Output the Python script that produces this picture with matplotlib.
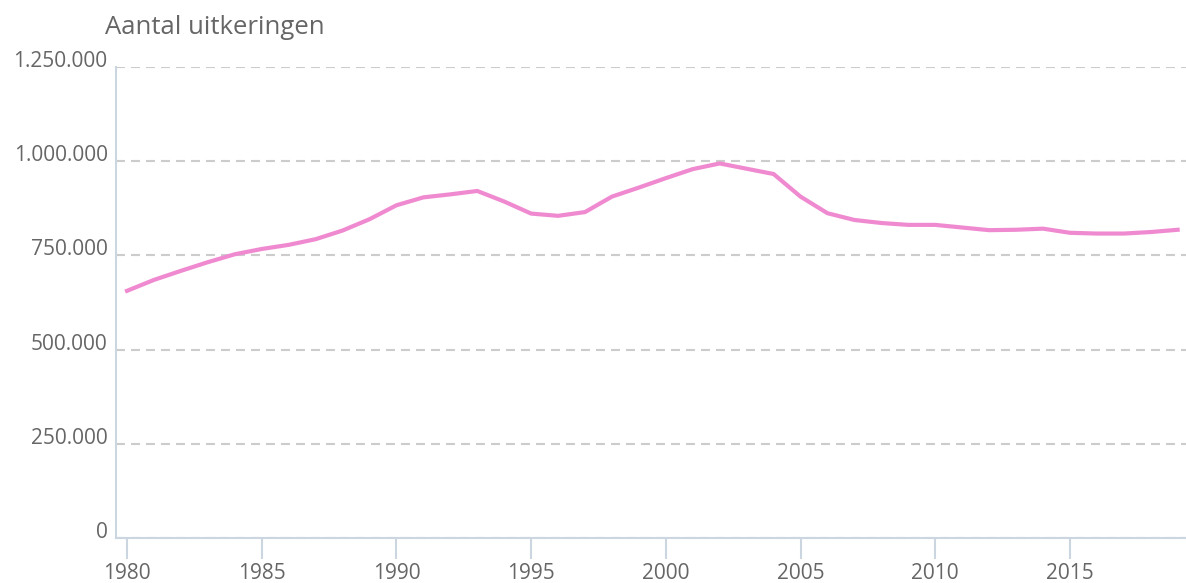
import matplotlib.pyplot as plt
from matplotlib.ticker import FuncFormatter

# aantal uitkeringen per jaar
years = list(range(1980, 2020))
uitkeringen = [
    656000, 685000, 709000, 732000, 753000, 767000, 778000, 793000, 816000, 846000,
    883000, 904000, 912000, 921000, 893000, 861000, 855000, 865000, 906000, 930000,
    955000, 979000, 994000, 980000, 966000, 906000, 862000, 844000, 836000, 831000,
    831000, 824000, 817000, 818000, 821000, 810000, 808000, 808000, 812000, 818000,
]
y_ticks = [0, 250000, 500000, 750000, 1000000, 1250000]
x_ticks = [1980, 1985, 1990, 1995, 2000, 2005, 2010, 2015]

text_grey = "#666666"
axis_blue = "#ccd6e0"

plt.rcParams['font.family'] = ['Open Sans', 'DejaVu Sans']

fig = plt.figure(figsize=(11.86, 5.83), dpi=100)
ax = fig.add_axes([116 / 1186, 45 / 583, 1 - 116 / 1186, 471 / 583])

ax.plot(years, uitkeringen, color="#f08ad0", linewidth=3, solid_joinstyle="round", zorder=3)

ax.set_xlim(1979.59, 2019.31)
ax.set_ylim(0, 1250000)
ax.set_yticks(y_ticks)
ax.set_xticks(x_ticks)

def dutch_thousands(v, pos):
    return f"{int(v):,}".replace(",", ".")

ax.yaxis.set_major_formatter(FuncFormatter(dutch_thousands))

ax.grid(axis="y", color="#cccccc", linestyle=(0, (4.3, 2.9)), linewidth=1.5, zorder=1)
for side in ["top", "right"]:
    ax.spines[side].set_visible(False)
for side in ["left", "bottom"]:
    ax.spines[side].set_color(axis_blue)
    ax.spines[side].set_linewidth(1.5)

ax.tick_params(axis="y", length=0, pad=6, labelsize=15, labelcolor=text_grey)
ax.tick_params(axis="x", length=15, width=1.5, color=axis_blue, pad=3,
               labelsize=15, labelcolor=text_grey)
for lbl in ax.get_yticklabels():
    lbl.set_verticalalignment("baseline")

fig.text(105 / 1186, 1 - 27 / 583, "Aantal uitkeringen", fontsize=18.5,
         color=text_grey, ha="left", va="center")

fig.savefig("out.png", dpi=100)
